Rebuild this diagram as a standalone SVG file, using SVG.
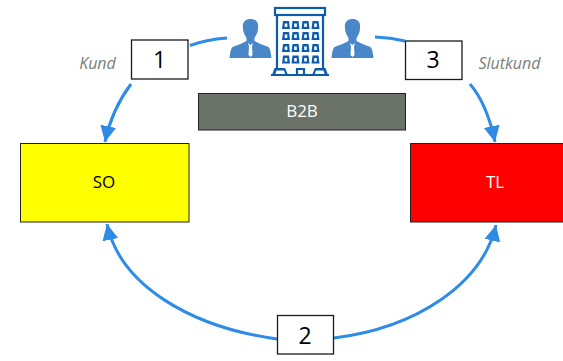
<svg xmlns="http://www.w3.org/2000/svg" width="563" height="361" viewBox="0 0 563 361">
<style>
text{font-family:"Open Sans","Noto Sans","Liberation Sans",sans-serif}
.c{fill:none;stroke:#2e8be6;stroke-width:3}
.n{fill:#fff;stroke:#1a1a1a;stroke-width:1.3}
.d{font-size:23px;fill:#000;text-anchor:middle}
.l{font-size:16px;font-style:italic;fill:#7a807a;text-anchor:middle}
.b{font-size:17px;text-anchor:middle}
.p{fill:#4a87c9}
.t{fill:#fff}
.w{fill:none;stroke:#0b5cad;stroke-width:2.200}
.f{fill:#0b5cad}
</style>
<defs>
<marker id="a" markerUnits="userSpaceOnUse" markerWidth="17" markerHeight="17" refX="16" refY="8.500" orient="auto"><path d="M0 0.500L16 8.500L0 16.500Z" fill="#2e8be6"/></marker>
<g id="person">
<path class="p" d="M-7.500 -6C-8.500 -13 -4 -15 0 -15C4 -15 8.500 -13 7.500 -6C7.500 -1 5 2 4 4L4 7L10 10L18 13C20 15 20.500 20 21 24L-21 24C-20.500 20 -20 15 -18 13L-10 10L-4 7L-4 4C-5 2 -7.500 -1 -7.500 -6Z"/>
<path class="t" d="M-2.500 9L0 11L2.500 9L1.500 12.500L2 21L0 23L-2 21L-1.500 12.500Z"/>
</g>
<g id="win"><path class="f" d="M-4 4L-3 -4L3 -4L4 4ZM-1.300 -1.500V2H1.300V-1.500Z"/></g>
</defs>
<g id="connectors">
<path class="c" d="M131 84C119 100 110 118 105 142" marker-end="url(#a)"/>
<path class="c" d="M190 45.500C202 41 214 39 227 38"/>
<path class="c" d="M375 37C386 37.500 396 39 405 41"/>
<path class="c" d="M470 84C482 98 490 118 495 142" marker-end="url(#a)"/>
<path class="c" d="M277 339C190 327 120 285 107 224" marker-end="url(#a)"/>
<path class="c" d="M334 338C415 328 482 285 496 225" marker-end="url(#a)"/>
</g>
<g id="icon">
<use href="#person" x="250.500" y="34"/>
<use href="#person" x="352.500" y="34"/>
<rect class="w" x="275" y="8" width="50" height="7"/>
<path class="w" d="M277 15V68M323 15V68"/>
<path class="f" d="M271 74H329V76H271Z"/>
<use href="#win" x="286" y="25"/><use href="#win" x="295.500" y="25"/><use href="#win" x="305.500" y="25"/><use href="#win" x="315.500" y="25"/>
<use href="#win" x="286" y="36"/><use href="#win" x="295.500" y="36"/><use href="#win" x="305.500" y="36"/><use href="#win" x="315.500" y="36"/>
<use href="#win" x="286" y="48"/><use href="#win" x="295.500" y="48"/><use href="#win" x="305.500" y="48"/><use href="#win" x="315.500" y="48"/>
<use href="#win" x="286" y="59.500"/><use href="#win" x="295.500" y="59.500"/><use href="#win" x="305.500" y="59.500"/><use href="#win" x="315.500" y="59.500"/>
<path class="f" d="M272 75L274.500 68H285L288 75H285.500L284 70.500H276.500L275 75ZM312 75L315 68H325.500L328 75H325L323.500 70.500H316L314.500 75Z"/>
<path class="w" d="M297 75V69H304V75"/>
</g>
<g id="n1"><rect class="n" x="131.500" y="40" width="56.500" height="39"/><text class="d" x="159.500" y="68">1</text></g>
<g id="n3"><rect class="n" x="405.500" y="41" width="56.500" height="38.500"/><text class="d" x="433" y="68">3</text></g>
<g id="n2"><rect class="n" x="277.500" y="315.500" width="56" height="38.500"/><text class="d" x="305" y="344">2</text></g>
<g id="kund"><text class="l" x="97.500" y="69">Kund</text></g>
<g id="slutkund"><text class="l" x="509.500" y="69">Slutkund</text></g>
<g id="b2b"><rect x="198.500" y="93.500" width="207" height="36.500" fill="#6b7268" stroke="#222" stroke-width="1"/><text class="b" x="302" y="117" fill="#fff">B2B</text></g>
<g id="so"><rect x="20.500" y="143.500" width="168.500" height="78.500" fill="#ff0" stroke="#222" stroke-width="1"/><text class="b" x="104" y="188" fill="#000">SO</text></g>
<g id="tl"><rect x="410.500" y="143.500" width="160" height="78.500" fill="#f00" stroke="#222" stroke-width="1"/><text class="b" x="495" y="188" fill="#fff">TL</text></g>
</svg>
